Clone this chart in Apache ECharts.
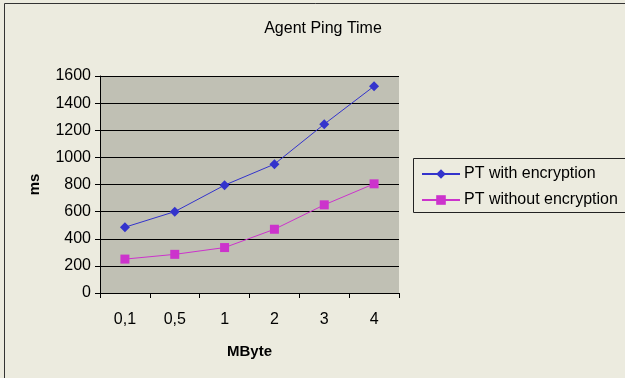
<!DOCTYPE html>
<html>
<head>
<meta charset="utf-8">
<script src="https://cdn.jsdelivr.net/npm/echarts@6/dist/echarts.min.js"></script>
<style>
  html, body { margin: 0; padding: 0; background: #ECEBDF; }
  #chart { width: 625px; height: 378px; }
</style>
</head>
<body>
<div id="chart"></div>
<script>
// Message size categories (MByte)
const categories = ['0,1', '0,5', '1', '2', '3', '4'];
// Ping times in ms
const withEncryption = [485, 600, 795, 950, 1245, 1525];
const withoutEncryption = [250, 285, 335, 470, 650, 805];
const yTicks = { min: 0, max: 1600, interval: 200 };

const font = 'Liberation Sans, Arial, sans-serif';
const chart = echarts.init(document.getElementById('chart'), null, { renderer: 'canvas' });

chart.setOption({
  backgroundColor: '#ECEBDF',
  animation: false,
  title: {
    text: 'Agent Ping Time',
    left: 318, top: 16, textAlign: 'center',
    textStyle: { fontFamily: font, fontSize: 16, fontWeight: 'normal', color: '#000' }
  },
  graphic: [
    { type: 'rect', shape: { x: 4.5, y: 3.5, width: 640, height: 400 },
      style: { fill: null, stroke: '#333', lineWidth: 1 }, z: 10 },
    { type: 'rect', shape: { x: 413.5, y: 158.5, width: 230, height: 54 },
      style: { fill: null, stroke: '#222', lineWidth: 1 }, z: 10 }
  ],
  legend: {
    left: 416, top: 161, orient: 'vertical',
    itemWidth: 38, itemHeight: 12, itemGap: 10,
    textStyle: { fontFamily: font, fontSize: 16, color: '#000', padding: [0, 0, 0, -1] },
    data: ['PT with encryption', 'PT without encryption']
  },
  grid: { left: 100, right: 226, top: 76, bottom: 85, show: true,
          backgroundColor: '#C0C0B4', borderWidth: 0 },
  xAxis: {
    type: 'category', data: categories, boundaryGap: true,
    name: 'MByte', nameLocation: 'middle', nameGap: 51,
    nameTextStyle: { fontFamily: font, fontSize: 15, fontWeight: 'bold', color: '#000' },
    axisLine: { lineStyle: { color: '#000', width: 1 } },
    axisTick: { show: true, length: 5, lineStyle: { color: '#000' } },
    axisLabel: { margin: 19, fontFamily: font, fontSize: 16, color: '#000' }
  },
  yAxis: {
    type: 'value', min: yTicks.min, max: yTicks.max, interval: yTicks.interval,
    name: 'ms', nameLocation: 'middle', nameGap: 58, nameRotate: 90,
    nameTextStyle: { fontFamily: font, fontSize: 15, fontWeight: 'bold', color: '#000' },
    axisLine: { show: true, lineStyle: { color: '#000', width: 1 } },
    axisTick: { show: true, length: 5, lineStyle: { color: '#000' } },
    axisLabel: { margin: 9, fontFamily: font, fontSize: 16, color: '#000',
                 formatter: (v) => String(v) },
    splitLine: { show: true, lineStyle: { color: '#000', width: 1 } }
  },
  series: [
    {
      name: 'PT with encryption', type: 'line', data: withEncryption,
      symbol: 'diamond', symbolSize: 10,
      lineStyle: { color: '#3333CC', width: 1 },
      itemStyle: { color: '#3333CC' }
    },
    {
      name: 'PT without encryption', type: 'line', data: withoutEncryption,
      symbol: 'rect', symbolSize: 9,
      lineStyle: { color: '#CC33CC', width: 1 },
      itemStyle: { color: '#CC33CC' }
    }
  ]
});
</script>
</body>
</html>
